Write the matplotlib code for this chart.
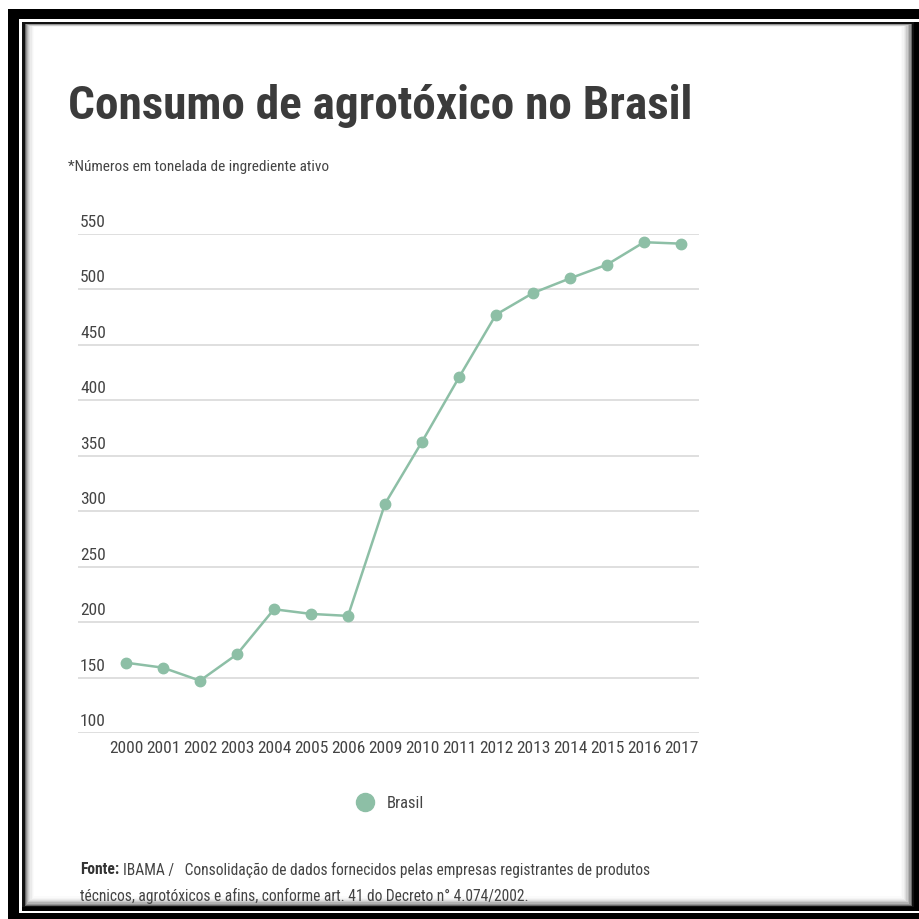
import matplotlib
matplotlib.use('Agg')
import matplotlib.pyplot as plt
import matplotlib.transforms as mtrans
from matplotlib.patches import Rectangle
from matplotlib.lines import Line2D

# data (toneladas de ingrediente ativo, milhares)
anos = ['2000', '2001', '2002', '2003', '2004', '2005', '2006', '2009',
        '2010', '2011', '2012', '2013', '2014', '2015', '2016', '2017']
consumo = [163.4, 158.9, 147.2, 171.0, 211.6, 207.4, 205.6, 306.7,
           362.6, 420.7, 477.3, 496.8, 510.0, 522.4, 542.6, 541.3]
yticks = [100, 150, 200, 250, 300, 350, 400, 450, 500, 550]

W = 919.0
verde = '#8dbfa6'
FONT = 'Roboto Condensed'

fig = plt.figure(figsize=(9.19, 9.19), dpi=100)
fig.patch.set_facecolor('white')


def box(x0, y0, x1, y1, color):
    # rectangle in pixel coords (top-left origin), behind everything
    fig.patches.append(Rectangle((x0 / W, 1 - y1 / W), (x1 - x0) / W, (y1 - y0) / W,
                                 transform=fig.transFigure, facecolor=color,
                                 edgecolor='none', zorder=-10))


# frame: thick black, thin white, thin black, soft inner shadow
box(8, 9, 940, 940, 'black')
box(19, 19, 940, 913, 'white')
box(22, 21.5, 940, 911, 'black')
box(22, 21.5, 914, 907, '#111111')
for i, g in enumerate([0.4, 0.58, 0.7, 0.8, 0.87, 0.92, 0.96, 0.985, 1.0]):
    box(25 + i * 1.1, 24 + i * 0.4, 912 - i * 1.4, 906 - i * 1.2, str(g))

# axes placed in pixel units
x_l, x_r, y_t, y_b = 78, 699, 234, 733
ax = fig.add_axes([x_l / W, 1 - y_b / W, (x_r - x_l) / W, (y_b - y_t) / W])
ax.set_facecolor('none')
x = list(range(len(anos)))
ax.plot(x, consumo, color=verde, lw=1.8, marker='o', ms=7.5, mec=verde, mfc=verde,
        clip_on=False, zorder=3)

ax.set_ylim(100, 550)
ax.set_xlim((x_l - 126) / 37.0, 15 + (x_r - 681) / 37.0)
ax.set_yticks(yticks)
ax.set_yticklabels([str(t) for t in yticks])
ax.set_xticks(x)
ax.set_xticklabels(anos)
ax.grid(axis='y', color='#dcdcdc', lw=1.3)
ax.set_axisbelow(True)
for s in ax.spines.values():
    s.set_visible(False)
ax.tick_params(axis='both', length=0)
ax.tick_params(axis='x', pad=6, labelsize=12.5, labelcolor='#444444')
ax.tick_params(axis='y', pad=0, labelsize=12.5, labelcolor='#444444')
for lab in ax.get_xticklabels() + ax.get_yticklabels():
    lab.set_fontfamily(FONT)
off = mtrans.ScaledTranslation(2 / 100, 4 / 100, fig.dpi_scale_trans)
for lab in ax.get_yticklabels():
    lab.set_horizontalalignment('left')
    lab.set_verticalalignment('bottom')
    lab.set_transform(lab.get_transform() + off)

# titles
fig.text(68 / W, 1 - 106 / W, 'Consumo de agrotóxico no Brasil', fontfamily=FONT,
         fontweight='bold', fontsize=34, color='#3b3b3b', va='center', ha='left')
fig.text(68 / W, 1 - 167 / W, '*Números em tonelada de ingrediente ativo', fontfamily=FONT,
         fontsize=11, color='#444444', va='center', ha='left')

# legend
h = Line2D([], [], color=verde, marker='o', ls='none', ms=13)
fig.legend(handles=[h], labels=['Brasil'], loc='center', frameon=False,
           bbox_to_anchor=(386 / W, 1 - 803 / W), handletextpad=0.3,
           prop={'family': FONT, 'size': 12}, labelcolor='#444444')

# source
fonte = fig.text(80 / W, 1 - 870 / W, 'Fonte:', fontfamily=FONT, fontweight='bold',
                 fontsize=11.2, color='#333333', va='center', ha='left')
bb = fonte.get_window_extent(renderer=fig.canvas.get_renderer())
fig.text((bb.x1 + 4) / W, 1 - 870 / W,
         'IBAMA /   Consolidação de dados fornecidos pelas empresas registrantes de produtos',
         fontfamily=FONT, fontsize=11.2, color='#444444', va='center', ha='left')
fig.text(80 / W, 1 - 896 / W,
         'técnicos, agrotóxicos e afins, conforme art. 41 do Decreto n° 4.074/2002.',
         fontfamily=FONT, fontsize=11.2, color='#444444', va='center', ha='left')

fig.savefig('out.png', dpi=100, facecolor='white')
